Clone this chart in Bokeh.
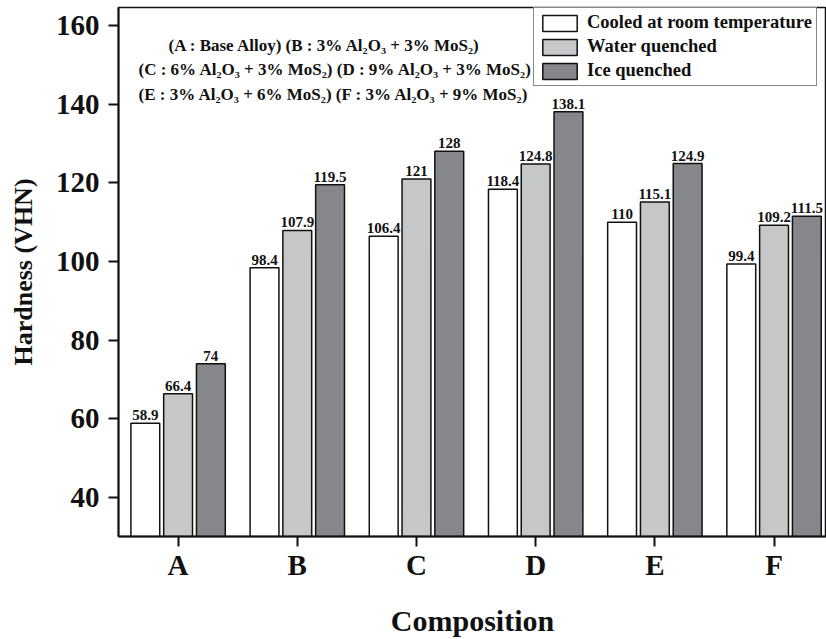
from bokeh.plotting import figure
from bokeh.models import Range1d, FixedTicker, Legend, LegendItem, Label, ColumnDataSource
from bokeh.core.properties import value
from bokeh.embed import file_html
from bokeh.resources import INLINE

categories = ["A", "B", "C", "D", "E", "F"]
series_names = ["Cooled at room temperature", "Water quenched", "Ice quenched"]
room = [58.9, 98.4, 106.4, 118.4, 110, 99.4]
water = [66.4, 107.9, 121, 124.8, 115.1, 109.2]
ice = [74, 119.5, 128, 138.1, 124.9, 111.5]
y_ticks = [40, 60, 80, 100, 120, 140, 160]
notes = [
    "(A : Base Alloy) (B : 3% Al\u2082O\u2083 + 3% MoS\u2082)",
    "(C : 6% Al\u2082O\u2083 + 3% MoS\u2082) (D : 9% Al\u2082O\u2083 + 3% MoS\u2082)",
    "(E : 3% Al\u2082O\u2083 + 6% MoS\u2082)  (F : 3% Al\u2082O\u2083 + 9% MoS\u2082)",
]

FONT = "Liberation Serif"
INK = "#111111"
colors = ["#ffffff", "#c6c7c9", "#86878b"]
offsets = [-0.275, 0.0, 0.275]
bar_w = 0.242

p = figure(width=826, height=639, x_range=Range1d(-0.5, 5.44), y_range=Range1d(30.1, 164.57),
           toolbar_location=None, output_backend="svg",
           min_border_left=118, min_border_right=0, min_border_top=7, min_border_bottom=102)
p.background_fill_color = "white"
p.border_fill_color = "white"
p.grid.visible = False
p.outline_line_color = INK
p.outline_line_width = 1.5

renderers = []
for vals, col, off in zip([room, water, ice], colors, offsets):
    xs = [i + off for i in range(len(categories))]
    src = ColumnDataSource(dict(x=xs, top=vals, lab=[f"{v:g}" for v in vals]))
    r = p.vbar(x="x", top="top", bottom=0, width=bar_w, source=src,
               fill_color=col, line_color=INK, line_width=1.5)
    renderers.append(r)
    p.text(x="x", y="top", text="lab", source=src, text_align="center", text_baseline="middle",
           y_offset=-8, text_font=value(FONT), text_font_style="bold", text_font_size="15px",
           text_color=INK)

# axes
p.xaxis.ticker = FixedTicker(ticks=list(range(len(categories))))
p.xaxis.major_label_overrides = {i: c for i, c in enumerate(categories)}
p.yaxis.ticker = FixedTicker(ticks=y_ticks)
for ax in (p.xaxis, p.yaxis):
    ax.axis_line_width = 2
    ax.axis_line_color = INK
    ax.major_tick_line_width = 2
    ax.major_tick_line_color = INK
    ax.major_tick_out = 10
    ax.major_tick_in = 0
    ax.minor_tick_line_color = None
    ax.major_label_text_font = FONT
    ax.major_label_text_font_style = "bold"
    ax.major_label_text_color = INK
    ax.axis_label_text_font = FONT
    ax.axis_label_text_font_style = "bold"
    ax.axis_label_text_color = INK
p.yaxis.major_label_text_font_size = "29px"
p.yaxis.major_label_standoff = 9
p.yaxis.axis_label = "Hardness (VHN)"
p.yaxis.axis_label_text_font_size = "26px"
p.yaxis.axis_label_standoff = 15
p.xaxis.major_label_text_font_size = "29px"
p.xaxis.major_label_standoff = 2
p.xaxis.axis_label = "Composition"
p.xaxis.axis_label_text_font_size = "30px"
p.xaxis.axis_label_standoff = 20

# notes
note_pos = [(50, 491), (20, 467), (20, 442.5)]
for t, (sx, sy) in zip(notes, note_pos):
    p.add_layout(Label(x=sx, y=sy, x_units="screen", y_units="screen", text=t,
                       text_font=FONT, text_font_style="bold", text_font_size="17px",
                       text_color=INK, text_baseline="middle"))

legend = Legend(items=[LegendItem(label=n, renderers=[r]) for n, r in zip(series_names, renderers)],
                location=(415, 450), glyph_width=43, glyph_height=20, spacing=3, padding=4,
                margin=0, label_standoff=6, label_text_font=FONT, label_text_font_style="bold",
                label_text_font_size="18.5px", label_text_color=INK,
                border_line_color=INK, border_line_width=1.5, background_fill_alpha=1)
p.add_layout(legend)

open("out.html", "w").write(file_html(p, INLINE))
